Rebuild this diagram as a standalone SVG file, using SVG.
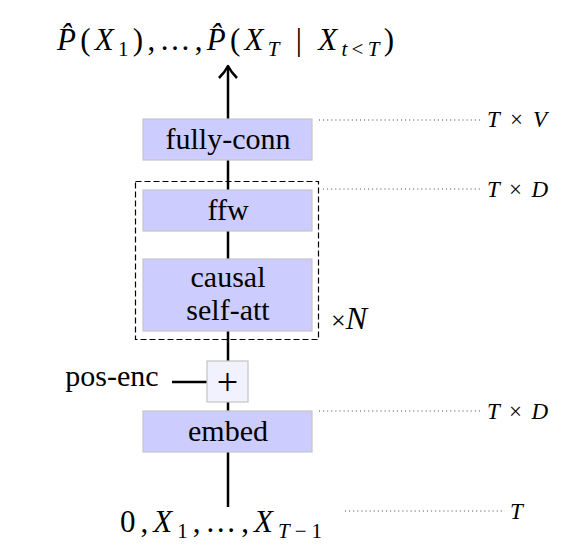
<svg xmlns="http://www.w3.org/2000/svg" width="564" height="551" viewBox="0 0 564 551" font-family="'Liberation Serif', 'DejaVu Serif', serif">
<style>
text{font-family:'Liberation Serif','DejaVu Serif',serif;fill:#000}
.lbl{font-size:30px;text-anchor:middle}
.m{font-size:31px}
.i{font-style:italic}
.s{font-size:21px}
.r{font-size:21px;font-style:italic}
.d{font-size:23px}
.box{fill:#ccccff;stroke:#c4c4cc;stroke-width:1.2}
.plus{fill:#f2f2ff;stroke:#c4c4c4;stroke-width:1.2}
.dot{stroke:#444;stroke-width:1.1;stroke-dasharray:1 3.1;fill:none}
.main{stroke:#000;stroke-width:2.5;fill:none}
</style>
<rect width="564" height="551" fill="#fff"/>
<g id="connectors">
<line class="main" x1="228" y1="67" x2="228" y2="507"/>
<path class="main" d="M219,78 Q225,72 228,66 Q231,72 237,78" stroke-linejoin="round"/>
<line class="main" x1="172" y1="382" x2="207" y2="382"/>
<line class="dot" x1="319" y1="120" x2="480" y2="120"/>
<line class="dot" x1="323" y1="189" x2="480" y2="189"/>
<line class="dot" x1="319" y1="411" x2="480" y2="411"/>
<line class="dot" x1="345" y1="511" x2="505" y2="511"/>
</g>
<g id="output-label">
<text class="m" x="57" y="50" textLength="337" lengthAdjust="spacing"><tspan class="i">P̂</tspan>(<tspan class="i">X</tspan><tspan class="s" dy="6">1</tspan><tspan dy="-6">),…,</tspan><tspan class="i">P̂</tspan>(<tspan class="i">X</tspan><tspan class="r" dy="6">T</tspan><tspan dy="-6"> | </tspan><tspan class="i">X</tspan><tspan class="r" dy="6">t</tspan><tspan class="s">&lt;</tspan><tspan class="r">T</tspan><tspan dy="-6">)</tspan></text>
</g>
<g id="fully-conn">
<rect class="box" x="143" y="119" width="169" height="41"/>
<text class="lbl" x="228" y="149">fully-conn</text>
</g>
<g id="block">
<rect x="135.5" y="181.5" width="183" height="158" fill="none" stroke="#000" stroke-width="1.2" stroke-dasharray="6 3"/>
<text x="331" y="329" font-size="32"><tspan font-size="26">×</tspan><tspan class="i">N</tspan></text>
</g>
<g id="ffw">
<rect class="box" x="143" y="190" width="169" height="41"/>
<text class="lbl" x="228" y="220">ffw</text>
</g>
<g id="self-att">
<rect class="box" x="143" y="259" width="169" height="72"/>
<text class="lbl" x="228" y="287">causal</text>
<text class="lbl" x="228" y="320">self-att</text>
</g>
<g id="plus">
<rect class="plus" x="207" y="361" width="41" height="41"/>
<text x="227.5" y="395" font-size="38" text-anchor="middle">+</text>
</g>
<g id="pos-enc">
<text class="lbl" x="112" y="386">pos-enc</text>
</g>
<g id="embed">
<rect class="box" x="143" y="411" width="169" height="41"/>
<text class="lbl" x="228" y="441">embed</text>
</g>
<g id="input-label">
<text class="m" x="120" y="532" textLength="202" lengthAdjust="spacing">0,<tspan class="i">X</tspan><tspan class="s" dy="6">1</tspan><tspan dy="-6">,…,</tspan><tspan class="i">X</tspan><tspan class="r" dy="6">T</tspan><tspan class="s">−1</tspan></text>
</g>
<g id="dims">
<text class="d" x="487" y="127" textLength="60" lengthAdjust="spacing"><tspan class="i">T</tspan> × <tspan class="i">V</tspan></text>
<text class="d" x="487" y="197" textLength="61" lengthAdjust="spacing"><tspan class="i">T</tspan> × <tspan class="i">D</tspan></text>
<text class="d" x="487" y="419" textLength="61" lengthAdjust="spacing"><tspan class="i">T</tspan> × <tspan class="i">D</tspan></text>
<text class="d i" x="510" y="519">T</text>
</g>
</svg>
